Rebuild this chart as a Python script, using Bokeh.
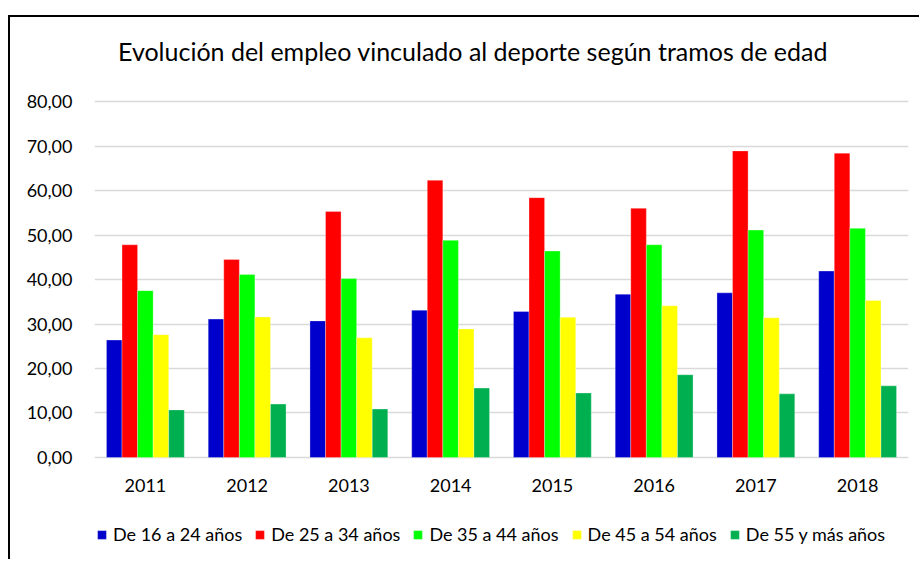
from bokeh.plotting import figure
from bokeh.models import (FactorRange, Range1d, FixedTicker, Legend, LegendItem,
                          ColumnDataSource, Label)
from bokeh.core.properties import value
from bokeh.transform import dodge
from bokeh.embed import file_html
from bokeh.resources import INLINE

years = ["2011", "2012", "2013", "2014", "2015", "2016", "2017", "2018"]
s16_24 = [26.4, 31.1, 30.7, 33.1, 32.8, 36.7, 37.0, 41.9]
s25_34 = [47.8, 44.5, 55.3, 62.3, 58.4, 56.0, 68.9, 68.4]
s35_44 = [37.5, 41.1, 40.2, 48.8, 46.4, 47.8, 51.1, 51.5]
s45_54 = [27.6, 31.6, 26.9, 28.9, 31.5, 34.1, 31.4, 35.3]
s55 = [10.7, 12.0, 10.9, 15.6, 14.5, 18.6, 14.3, 16.1]
series_names = ["De 16 a 24 años", "De 25 a 34 años", "De 35 a 44 años",
                "De 45 a 54 años", "De 55 y más años"]
series_keys = ["s16_24", "s25_34", "s35_44", "s45_54", "s55"]
colors = ["#0000CC", "#FF0000", "#00FF00", "#FFFF00", "#00B050"]
y_ticks = [0, 10, 20, 30, 40, 50, 60, 70, 80]
y_tick_labels = ["0,00", "10,00", "20,00", "30,00", "40,00", "50,00", "60,00", "70,00", "80,00"]
title_text = "Evolución del empleo vinculado al deporte según tramos de edad"

source = ColumnDataSource(dict(years=years, s16_24=s16_24, s25_34=s25_34,
                               s35_44=s35_44, s45_54=s45_54, s55=s55))

FONT = "Lato"
# layout constants: the frame extends above 80 (title) and below 0 (labels, legend)
Y_BOTTOM, Y_TOP = -21.35, 98.43
LABEL_Y = -6.3
TITLE_X, TITLE_Y = 3.72, 91.4

p = figure(x_range=FactorRange(*years, range_padding=0), y_range=Range1d(Y_BOTTOM, Y_TOP),
           width=911, height=544, output_backend="svg", toolbar_location=None,
           min_border_left=84, min_border_right=13, min_border_top=2, min_border_bottom=9)
p.styles = {"border-top": "2px solid #000000", "border-left": "2px solid #000000",
            "margin-top": "15px", "margin-left": "8px"}

bw = 0.153
offsets = [-2 * bw, -bw, 0, bw, 2 * bw]
items = []
for key, name, col, off in zip(series_keys, series_names, colors, offsets):
    r = p.vbar(x=dodge("years", off, range=p.x_range), top=key, width=bw, source=source,
               fill_color=col, line_color="white", line_width=0.6, line_alpha=0.5)
    items.append(LegendItem(label=name, renderers=[r]))

# category labels under the bars
p.text(x="years", y=LABEL_Y, text="years", source=source,
       text_align="center", text_baseline="middle",
       text_font=value(FONT), text_font_size="18px", text_color="#000000")

title = Label(x=TITLE_X, y=TITLE_Y, text=title_text, text_align="center",
              text_baseline="middle", text_font=FONT, text_font_size="25px",
              text_color="#000000")
p.add_layout(title)

p.outline_line_color = None
p.xaxis.visible = False
p.xgrid.grid_line_color = None
p.ygrid.ticker = FixedTicker(ticks=y_ticks)
p.ygrid.grid_line_color = "#D9D9D9"
p.ygrid.grid_line_width = 1.5
p.yaxis.ticker = FixedTicker(ticks=y_ticks)
p.yaxis.major_label_overrides = {t: l for t, l in zip(y_ticks, y_tick_labels)}
p.yaxis.axis_line_color = None
p.yaxis.major_tick_line_color = None
p.yaxis.minor_tick_line_color = None
p.yaxis.major_label_standoff = 16
p.yaxis.major_label_text_font = FONT
p.yaxis.major_label_text_font_size = "18px"
p.yaxis.major_label_text_color = "#000000"

legend = Legend(items=items, orientation="horizontal", location=(2, 7),
                glyph_width=11, glyph_height=11, label_standoff=6, spacing=12,
                padding=0, margin=0, border_line_color=None, background_fill_alpha=0,
                label_text_font=FONT, label_text_font_size="18px", label_text_color="#000000")
p.add_layout(legend, "center")

open("out.html", "w").write(file_html(p, INLINE))
